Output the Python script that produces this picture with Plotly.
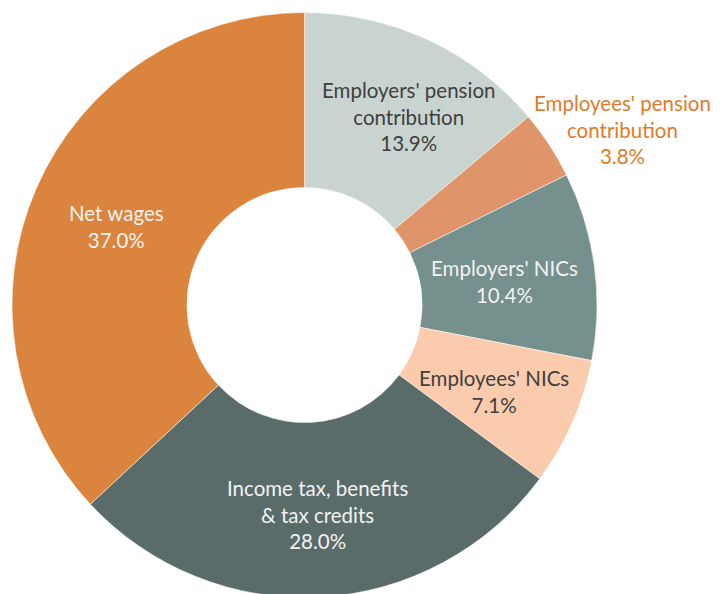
import plotly.graph_objects as go

labels = ["Employers' pension contribution", "Employees' pension contribution",
          "Employers' NICs", "Employees' NICs",
          "Income tax, benefits & tax credits", "Net wages"]
label_lines = ["Employers' pension<br>contribution", "Employees' pension<br>contribution",
               "Employers' NICs", "Employees' NICs",
               "Income tax, benefits<br>& tax credits", "Net wages"]
values = [13.9, 3.8, 10.4, 7.1, 28.0, 37.0]
colors = ["#C9D4D1", "#DF9569", "#75908D", "#FACBAD", "#596C69", "#DB843D"]
text_colors = ["#404040", "#E07B2B", "#F2F2F2", "#404040", "#F2F2F2", "#F2F2F2"]
# label centres in screenshot pixels (x, y from top)
label_pos = [(408, 116), (622, 129), (505, 281), (494, 391), (317, 514), (116, 226)]

OFF = 8  # page body margin offset
W, H = 720 - OFF, 594
cx, cy, r = 304.5 - OFF, 305 - OFF, 292.5

fig = go.Figure(go.Pie(
    labels=labels, values=values, sort=False, direction="clockwise", rotation=0,
    hole=0.402, textinfo="none", hoverinfo="label+percent",
    marker=dict(colors=colors, line=dict(color="#FFFFFF", width=0.5)),
    domain=dict(x=[(cx - r) / W, (cx + r) / W], y=[(H - cy - r) / H, (H - cy + r) / H]),
    showlegend=False,
))

for lab, v, c, (px, py) in zip(label_lines, values, text_colors, label_pos):
    fig.add_annotation(x=(px - OFF) / W, y=1 - (py - OFF) / H, xref="paper", yref="paper",
                       xanchor="center", yanchor="middle",
                       text=f"{lab}<br>{v:.1f}%", showarrow=False,
                       font=dict(family="Lato", size=20.5, color=c), align="center")

fig.update_layout(width=W, height=H, margin=dict(l=0, r=0, t=0, b=0),
                  paper_bgcolor="white", plot_bgcolor="white")
fig.write_html("out.html")
